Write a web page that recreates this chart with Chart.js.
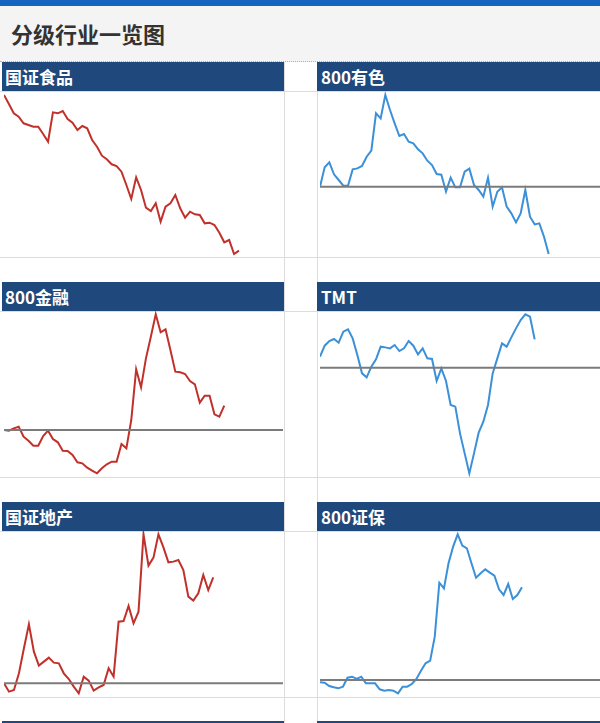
<!DOCTYPE html>
<html><head><meta charset="utf-8">
<script src="https://cdn.jsdelivr.net/npm/chart.js@4/dist/chart.umd.min.js"></script>
<style>
html,body{margin:0;padding:0;background:#fff;}
#wrap{position:relative;width:600px;height:723px;overflow:hidden;font-family:"Noto Sans CJK SC","Noto Sans",sans-serif;}
.topbar{position:absolute;left:0;top:0;width:600px;height:6px;background:#1565c0;}
.titlebar{position:absolute;left:0;top:6px;width:600px;height:55px;background:#f4f4f4;border-bottom:1px dotted #b0b0b0;}
.title{position:absolute;left:11px;top:12px;font-size:22px;line-height:30px;font-weight:bold;color:#333;}
.hdr{position:absolute;height:29px;background:#1f497d;color:#fff;font-weight:bold;font-size:17px;line-height:29px;box-sizing:border-box;white-space:nowrap;}
.hline{position:absolute;height:1px;background:#dcdcdc;left:0;width:600px;}
.vline{position:absolute;width:1px;background:#dcdcdc;top:62px;height:661px;}
.navy{position:absolute;height:3px;top:721px;background:#1f497d;}
canvas{position:absolute;}
</style>
</head><body>
<div id="wrap">
  <div class="topbar"></div>
  <div class="titlebar"><div class="title">分级行业一览图</div></div>
  <div class="vline" style="left:284px"></div>
  <div class="vline" style="left:317px"></div>
  <div class="hline" style="top:91px"></div>
  <div class="hline" style="top:257px"></div>
  <div class="hline" style="top:311px"></div>
  <div class="hline" style="top:477px"></div>
  <div class="hline" style="top:531px"></div>
  <div class="hline" style="top:697px"></div>
  <div class="navy" style="left:2px;width:282px"></div>
  <div class="navy" style="left:317px;width:283px"></div>
  <div id="panels"></div>
</div>
<script>
// ---- data ----
const titles = ["国证食品", "800有色", "800金融", "TMT", "国证地产", "800证保"];

const foodValues = [0,-2.25,-4.58,-5.42,-7.08,-7.5,-7.92,-7.92,-9.75,-11.67,-4.33,-4.58,-4.0,-6.0,-6.92,-8.75,-7.75,-8.33,-11.25,-12.92,-15.17,-16.08,-17.33,-17.75,-19.17,-22.5,-26.0,-20.58,-23.75,-28.17,-29.0,-27.08,-31.67,-27.92,-27.08,-25.0,-28.33,-30.67,-29.17,-29.83,-30.0,-32.08,-31.92,-32.5,-34.42,-36.83,-36.25,-39.75,-38.92];

const metalsValues = [0,4.83,6.08,3.08,1.67,0.25,0.25,4.33,4.58,5.17,7.5,9.0,18.33,17.08,22.92,19.17,15.83,12.67,13.17,11.25,10.83,9.33,8.33,6.5,5.42,3.17,3.0,-1.25,2.25,-0.17,-0.17,3.75,4.5,0.42,-0.83,-2.5,2.25,-5.0,-1.25,-0.17,-5.0,-6.67,-8.92,-6.67,-0.83,-7.5,-9.42,-9.17,-12.5,-16.83];

const financeValues = [0,-0.17,0.42,0.83,-1.67,-2.67,-3.92,-3.92,-1.5,-0.17,-2.25,-3.08,-5.17,-5.25,-6.25,-8.08,-8.33,-9.42,-10.17,-10.83,-9.58,-8.58,-7.92,-7.92,-3.5,-4.58,2.5,15.17,10.67,17.92,23.33,28.92,24.42,25.17,20.0,14.58,14.42,14.0,12.25,11.42,6.83,8.58,8.58,3.92,3.33,6.08];

const tmtValues = [2.75,5.5,6.67,7.17,6.25,9.0,9.58,7.33,3.17,-1.42,-2.42,0.25,2.08,5.25,5.08,4.83,5.67,4.17,4.83,6.67,5.5,3.33,4.83,2.33,2.17,-3.33,-0.17,-3.33,-9.33,-9.75,-16.42,-21.42,-26.42,-21.42,-16.25,-13.5,-9.33,-1.42,2.33,6.08,5.25,7.58,9.83,11.92,13.33,12.75,7.08];

const realEstateValues = [0,-2.08,-1.67,2.5,8.75,14.75,7.92,4.42,5.42,6.42,5.17,5.0,2.5,1.08,-0.83,-2.5,1.67,0.67,-1.83,-1.0,-0.42,3.75,1.67,15.42,15.58,19.33,15.0,17.92,37.25,29.42,31.42,37.25,34.0,30.25,30.42,30.83,28.33,21.67,20.67,22.5,27.08,23.33,26.5];

const brokerInsValues = [-0.58,-0.67,-1.5,-1.83,-2.08,-1.67,0.58,0.83,0.25,0.83,-0.83,-0.83,-0.83,-2.33,-2.67,-2.5,-2.67,-3.33,-1.67,-1.67,-1.0,0.25,2.33,4.17,4.83,10.83,24.33,22.92,29.17,33.33,36.42,33.58,32.92,29.17,25.58,26.67,27.67,26.83,26.08,22.67,21.25,24.0,20.25,21.25,23.17];

// number of time slots on each chart's x axis
const slotCounts = [58, 61, 58, 61, 57, 62];
// y axis extents per chart
const yMins = [-40.5, -17.58, -11.75, -27.33, -3.42, -4.25];
const yMaxs = [1.0, 23.92, 29.75, 14.17, 38.08, 37.25];
const showZero = [false, true, true, true, true, true];

const seriesList = [foodValues, metalsValues, financeValues, tmtValues, realEstateValues, brokerInsValues];

// ---- drawing ----
const RED = '#c1312b', BLUE = '#3b90d8';
const wrap = document.getElementById('wrap');

seriesList.forEach((vals, k) => {
  const row = Math.floor(k / 2), col = k % 2;
  const top = 62 + row * 220;
  const hdr = document.createElement('div');
  hdr.className = 'hdr';
  if (col === 0) { hdr.style.left = '2px'; hdr.style.width = '282px'; hdr.style.paddingLeft = '3px'; }
  else { hdr.style.left = '317px'; hdr.style.width = '283px'; hdr.style.paddingLeft = '4px'; }
  hdr.style.top = top + 'px';
  hdr.textContent = titles[k];
  wrap.appendChild(hdr);

  const cv = document.createElement('canvas');
  const left = col === 0 ? 4 : 320;
  const w = col === 0 ? 279 : 280;
  cv.width = w; cv.height = 166;
  cv.style.left = left + 'px';
  cv.style.top = (top + 29) + 'px';
  cv.style.width = w + 'px'; cv.style.height = '166px';
  wrap.appendChild(cv);

  const labels = Array.from({length: slotCounts[k]}, (_, i) => i + 1);
  const datasets = [{
    data: vals,
    borderColor: col === 0 ? RED : BLUE,
    borderWidth: 2,
    pointRadius: 0,
    tension: 0,
    fill: false,
    clip: false,
    order: 2
  }];
  if (showZero[k]) {
    datasets.push({
      data: labels.map(() => 0),
      borderColor: '#7b7b7b',
      borderWidth: 2,
      pointRadius: 0,
      fill: false,
      clip: false,
      order: 1
    });
  }
  new Chart(cv, {
    type: 'line',
    data: { labels, datasets },
    options: {
      responsive: false,
      animation: false,
      devicePixelRatio: 1,
      layout: { padding: 0 },
      plugins: { legend: { display: false }, tooltip: { enabled: false } },
      scales: {
        x: { display: false, offset: false },
        y: { display: false, min: yMins[k], max: yMaxs[k] }
      }
    }
  });
});
</script>
</body></html>
